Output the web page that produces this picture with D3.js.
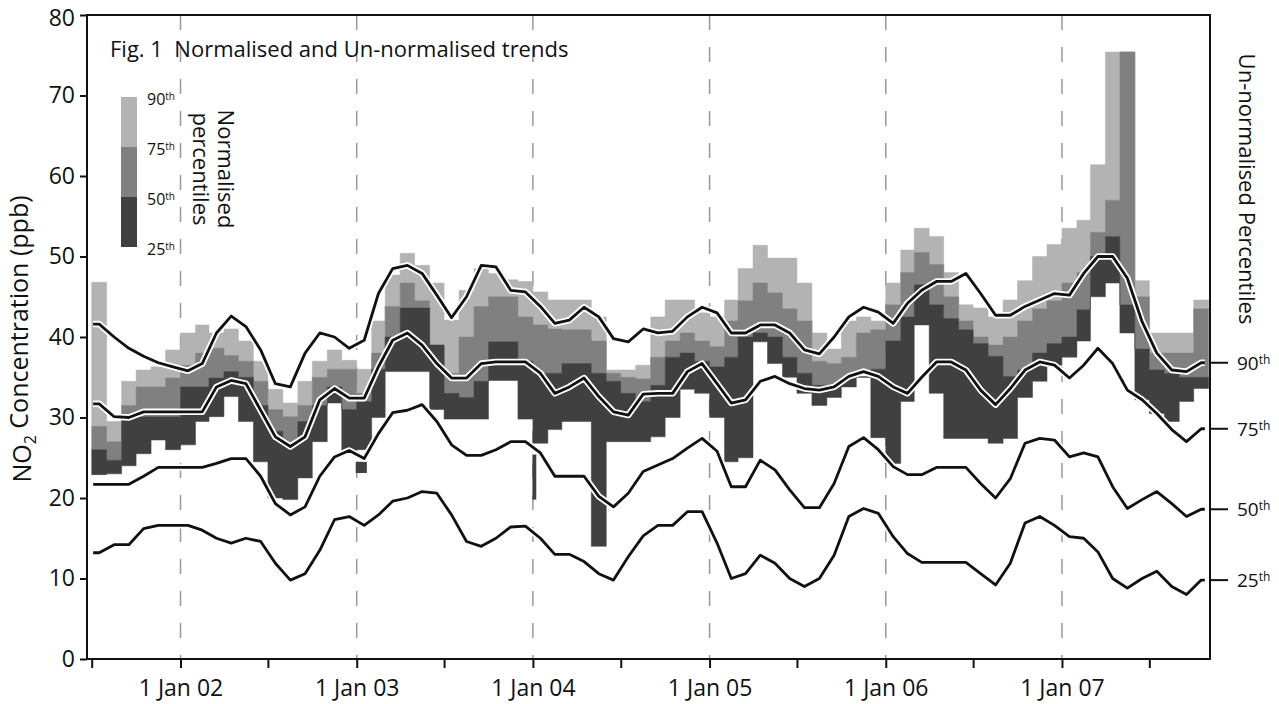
<html>
<head>
  <script src="https://d3js.org/d3.v7.min.js"></script>
  <style>
    body { margin: 0; background: #fff; }
    text { font-family: "Open Sans", sans-serif; fill: #111; }
  </style>
</head>
<body>
<svg id="chart" width="1279" height="704"></svg>
<script>
  // monthly values, Jul 2001 .. Oct 2007 (76 months)
  const startMonth = new Date(2001, 6, 1);
  const endMonth = new Date(2007, 10, 1);

  // normalised percentiles (shaded bands)
  const norm90 = [46.8,29.5,34.5,35.9,36.3,38.4,40.5,41.5,40.5,41.0,39.5,37.0,33.5,31.8,34.5,37.0,38.4,37.1,
    36.0,42.0,47.7,50.4,48.9,46.7,42.1,45.8,48.5,47.9,47.1,46.9,45.6,44.6,44.6,44.6,42.5,35.9,35.9,36.5,
    42.5,44.6,44.6,43.0,42.5,44.6,48.5,51.4,49.8,49.8,46.7,40.5,38.5,42.0,42.5,42.0,46.7,50.8,53.5,52.5,
    48.0,44.0,43.6,42.5,44.6,47.0,50.0,51.5,53.5,54.5,61.4,75.4,75.4,47.0,40.5,40.5,40.5,44.6];
  const norm75 = [28.9,27.0,31.5,33.8,33.8,34.9,36.5,38.0,38.6,37.7,37.0,34.5,31.0,30.1,31.5,35.0,36.0,36.0,
    33.0,38.0,43.8,46.7,44.5,37.0,35.5,40.0,43.8,45.0,45.0,42.5,41.5,41.0,40.9,40.9,39.5,35.5,35.0,34.8,
    37.5,39.5,40.5,39.5,38.8,42.0,44.5,46.7,45.5,43.5,42.0,37.0,36.7,37.5,40.5,40.9,44.0,48.0,50.5,49.0,
    45.0,42.0,40.0,39.0,40.0,42.0,43.5,44.5,46.7,48.0,53.0,57.0,75.4,45.0,38.0,38.0,38.0,43.5];
  const norm50 = [26.0,24.7,30.0,30.1,30.1,30.1,33.8,33.8,34.9,35.7,35.0,31.5,28.3,26.8,29.5,31.5,33.8,31.0,
    32.0,36.0,40.0,43.6,43.6,39.0,33.0,32.5,34.5,39.4,39.4,37.0,35.5,35.5,36.7,36.7,35.5,34.5,33.0,32.0,
    34.0,37.5,38.0,37.0,36.3,37.5,40.0,40.5,40.0,37.5,35.5,34.0,34.0,35.0,35.0,36.0,39.5,42.5,46.5,44.0,
    42.3,40.9,39.2,37.6,35.1,35.9,38.0,39.2,40.0,43.4,50.0,52.5,44.0,38.5,35.9,35.5,35.0,35.0];
  const norm25 = [22.9,23.0,24.0,25.5,27.2,26.0,26.6,29.5,30.1,32.6,29.5,24.5,20.0,19.8,22.5,27.0,31.8,25.8,
    26.0,30.0,35.7,35.7,35.7,31.0,29.8,29.8,29.8,34.6,34.6,29.8,26.8,28.5,29.5,29.5,14.0,27.0,27.0,27.0,
    27.6,30.0,33.5,33.0,30.0,24.5,25.0,39.4,36.7,35.0,33.0,31.5,32.5,33.8,35.0,27.5,24.3,32.0,41.5,33.0,
    27.4,27.4,27.4,26.8,27.4,32.5,34.5,36.5,37.5,39.5,45.0,46.7,40.5,32.2,30.5,29.5,32.0,33.6];

  // short isolated pieces of the 25th-50th band
  const darkBits = [
    { from: new Date(2002, 11, 30), to: new Date(2003, 0, 22), lo: 23.1, hi: 24.5 },
    { from: new Date(2003, 11, 31), to: new Date(2004, 0, 8), lo: 19.8, hi: 25.4 }
  ];

  // un-normalised percentiles (lines)
  const raw90 = [41.6,40.0,38.6,37.6,36.8,36.3,35.8,36.7,40.5,42.6,41.3,38.4,34.2,33.8,38.0,40.5,40.0,38.6,
    39.6,45.4,48.5,48.9,47.9,45.2,42.4,45.0,48.9,48.7,45.8,45.6,43.8,41.7,42.1,43.7,42.5,39.8,39.4,41.0,
    40.5,40.7,42.5,43.7,43.0,40.5,40.5,41.5,41.5,40.5,38.4,37.9,40.0,42.5,43.7,43.1,41.7,44.2,45.8,46.9,
    46.9,47.9,45.4,42.7,42.7,43.8,44.6,45.4,45.2,47.9,50.0,50.0,47.3,41.9,38.0,35.9,35.7,36.8];
  const raw75 = [31.7,30.1,30.0,30.7,30.7,30.7,30.7,30.7,33.8,34.6,34.2,30.9,27.6,26.4,27.6,32.2,33.6,32.4,
    32.4,36.3,39.6,40.5,39.0,36.7,34.9,34.9,36.7,36.9,36.9,36.9,35.5,33.0,33.8,34.9,32.6,30.7,30.3,32.9,
    33.0,33.0,35.7,36.7,34.2,31.8,32.2,34.5,35.1,34.2,33.6,33.4,33.8,35.1,35.7,35.1,33.8,33.0,35.0,36.9,
    36.9,35.9,33.4,31.6,33.6,35.9,36.9,36.5,34.9,36.5,38.6,36.7,33.4,32.2,30.5,28.5,27.0,28.6];
  const raw50 = [21.7,21.7,21.7,22.7,23.8,23.8,23.8,23.8,24.3,24.9,24.9,22.7,19.3,17.9,18.9,22.7,25.1,25.9,
    24.9,28.0,30.6,30.9,31.6,29.5,26.6,25.3,25.3,26.0,27.0,27.0,25.6,22.7,22.7,22.7,20.2,18.9,20.6,23.3,
    24.1,24.9,26.2,27.4,25.8,21.4,21.4,24.7,23.5,21.0,18.8,18.8,21.8,26.4,27.5,26.0,23.9,22.9,22.9,23.8,
    23.8,23.8,21.8,20.0,22.4,26.8,27.4,27.2,25.1,25.6,25.1,21.4,18.7,19.8,20.8,19.3,17.7,18.6];
  const raw25 = [13.2,14.2,14.2,16.2,16.6,16.6,16.6,16.0,15.0,14.4,15.0,14.6,11.9,9.8,10.6,13.5,17.3,17.7,
    16.6,17.9,19.6,20.0,20.8,20.6,17.9,14.6,14.0,15.0,16.4,16.5,15.0,13.0,13.0,12.1,10.6,9.8,12.7,15.3,
    16.6,16.6,18.3,18.3,14.4,10.0,10.6,12.9,11.9,10.0,9.0,10.0,12.9,17.7,18.7,18.1,15.2,13.1,12.0,12.0,
    12.0,12.0,10.6,9.2,11.9,16.9,17.7,16.6,15.2,15.0,13.3,10.0,8.8,10.0,10.9,9.0,8.0,9.8];

  const yTicks = [0, 10, 20, 30, 40, 50, 60, 70, 80];
  const yearLines = [2002, 2003, 2004, 2005, 2006, 2007].map(y => new Date(y, 0, 1));
  const midYearTicks = [2001, 2002, 2003, 2004, 2005, 2006, 2007].map(y => new Date(y, 6, 1));
  const legendLabels = ["90", "75", "50", "25"];
  const bandColors = { light: "#b3b3b3", mid: "#808080", dark: "#404040" };

  const svg = d3.select("#chart");
  const plot = { left: 87, right: 1210, top: 15, bottom: 659 };

  const x = d3.scaleTime().domain([startMonth, endMonth]).range([91.7, 1208.7]);
  const y = d3.scaleLinear().domain([0, 80]).range([plot.bottom, plot.top]);

  const months = d3.timeMonth.range(startMonth, endMonth);

  // rows for step bands, with a closing row at the end of the last month
  const bandRows = months.map((m, i) => ({ date: m, p25: norm25[i], p50: norm50[i], p75: norm75[i], p90: norm90[i] }));
  bandRows.push(Object.assign({}, bandRows[bandRows.length - 1], { date: endMonth }));

  // dashed year lines behind everything
  svg.append("g").selectAll("line").data(yearLines).join("line")
    .attr("x1", d => x(d)).attr("x2", d => x(d))
    .attr("y1", plot.top).attr("y2", plot.bottom)
    .attr("stroke", "#999").attr("stroke-width", 1.5)
    .attr("stroke-dasharray", "15,17");

  const bands = [
    { lo: "p75", hi: "p90", color: bandColors.light },
    { lo: "p50", hi: "p75", color: bandColors.mid },
    { lo: "p25", hi: "p50", color: bandColors.dark }
  ];
  bands.forEach(b => {
    const area = d3.area()
      .curve(d3.curveStepAfter)
      .x(d => x(d.date))
      .y0(d => y(d[b.lo]))
      .y1(d => y(d[b.hi]));
    svg.append("path").datum(bandRows)
      .attr("d", area)
      .attr("fill", b.color)
      .attr("stroke", b.color)
      .attr("stroke-width", 0.5);
  });

  svg.append("g").selectAll("rect").data(darkBits).join("rect")
    .attr("x", d => x(d.from))
    .attr("width", d => x(d.to) - x(d.from))
    .attr("y", d => y(d.hi))
    .attr("height", d => y(d.lo) - y(d.hi))
    .attr("fill", bandColors.dark);

  // un-normalised lines, mid-month points
  const lineSeries = [raw90, raw75, raw50, raw25];
  const line = d3.line().x(d => x(d.date)).y(d => y(d.v));
  lineSeries.forEach(vals => {
    const pts = months.map((m, i) => ({ date: new Date(+m + (d3.timeMonth.offset(m, 1) - m) / 2), v: vals[i] }));
    pts.unshift({ date: d3.timeDay.offset(startMonth, 3), v: vals[0] });
    pts.push({ date: d3.timeDay.offset(endMonth, -8), v: vals[vals.length - 1] });
    svg.append("path").datum(pts)
      .attr("d", line).attr("fill", "none")
      .attr("stroke", "#fff").attr("stroke-width", 6.5).attr("stroke-linejoin", "round");
    svg.append("path").datum(pts)
      .attr("d", line).attr("fill", "none")
      .attr("stroke", "#111").attr("stroke-width", 2.8).attr("stroke-linejoin", "round");
  });

  // frame
  svg.append("rect")
    .attr("x", plot.left).attr("y", plot.top)
    .attr("width", plot.right - plot.left).attr("height", plot.bottom - plot.top)
    .attr("fill", "none").attr("stroke", "#111").attr("stroke-width", 2);

  // left axis
  const yAxis = svg.append("g")
    .attr("transform", `translate(${plot.left},0)`)
    .call(d3.axisLeft(y).tickValues(yTicks).tickSize(7).tickPadding(5));
  yAxis.select(".domain").remove();
  yAxis.selectAll("line").attr("stroke", "#111").attr("stroke-width", 2);
  yAxis.selectAll("text").style("font-size", "23px").attr("fill", "#111");
  // top label sits a little lower so it stays on the page
  yAxis.selectAll("text").filter(d => d === 80).attr("dy", "0.47em");

  // bottom axis
  const allXTicks = midYearTicks.concat(yearLines);
  const xAxis = svg.append("g")
    .attr("transform", `translate(0,${plot.bottom})`)
    .call(d3.axisBottom(x).tickValues(allXTicks).tickSize(9).tickPadding(12)
      .tickFormat(d => d.getMonth() === 0 ? "1 Jan " + d3.timeFormat("%y")(d) : ""));
  xAxis.select(".domain").remove();
  xAxis.selectAll("line").attr("stroke", "#111").attr("stroke-width", 2);
  xAxis.selectAll("text").style("font-size", "23px").attr("fill", "#111");

  // right axis: ticks at final un-normalised values
  const rightTicks = lineSeries.map((vals, i) => ({ v: vals[vals.length - 1], label: legendLabels[i] }));
  rightTicks.forEach(t => {
    svg.append("line")
      .attr("x1", plot.right).attr("x2", plot.right + 18)
      .attr("y1", y(t.v)).attr("y2", y(t.v))
      .attr("stroke", "#111").attr("stroke-width", 2);
    const tx = svg.append("text")
      .attr("x", plot.right + 27).attr("y", y(t.v) + 7)
      .style("font-size", "19px");
    tx.append("tspan").text(t.label);
    tx.append("tspan").attr("dy", "-0.5em").style("font-size", "12px").text("th");
  });

  // title
  svg.append("text")
    .attr("x", 110).attr("y", 57)
    .attr("xml:space", "preserve")
    .style("font-size", "22px")
    .text("Fig. 1  Normalised and Un-normalised trends");

  // y axis title
  const yt = svg.append("text")
    .attr("transform", "translate(31,339) rotate(-90)")
    .attr("text-anchor", "middle")
    .style("font-size", "25px");
  yt.append("tspan").text("NO");
  yt.append("tspan").attr("dy", "0.3em").style("font-size", "16px").text("2");
  yt.append("tspan").attr("dy", "-0.3em").text(" Concentration (ppb)");

  // right title
  svg.append("text")
    .attr("transform", "translate(1239,189) rotate(90)")
    .attr("text-anchor", "middle")
    .style("font-size", "22px")
    .text("Un-normalised Percentiles");

  // legend
  const legendY = d3.scaleLinear().domain([0, 3]).range([97, 247]);
  const legendColors = [bandColors.light, bandColors.mid, bandColors.dark];
  legendColors.forEach((c, i) => {
    svg.append("rect")
      .attr("x", 121).attr("y", legendY(i))
      .attr("width", 16).attr("height", legendY(i + 1) - legendY(i))
      .attr("fill", c);
  });
  legendLabels.forEach((l, i) => {
    const t = svg.append("text")
      .attr("x", 147).attr("y", legendY(i) + 8)
      .style("font-size", "16px");
    t.append("tspan").text(l);
    t.append("tspan").attr("dy", "-0.5em").style("font-size", "10px").text("th");
  });
  svg.append("text")
    .attr("transform", "translate(218,169) rotate(90)")
    .attr("text-anchor", "middle")
    .style("font-size", "22px")
    .text("Normalised");
  svg.append("text")
    .attr("transform", "translate(193,169) rotate(90)")
    .attr("text-anchor", "middle")
    .style("font-size", "22px")
    .text("percentiles");
</script>
</body>
</html>
